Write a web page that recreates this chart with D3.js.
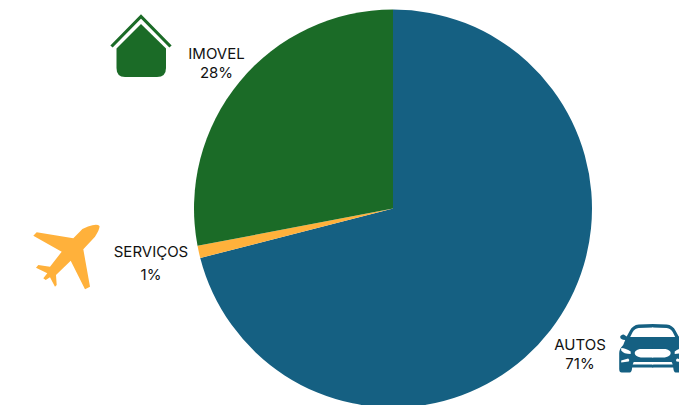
<!DOCTYPE html>
<html>
<head>
<meta charset="utf-8">
<script src="https://cdnjs.cloudflare.com/ajax/libs/d3/7.8.5/d3.min.js"></script>
<style>
  html, body { margin: 0; padding: 0; background: #fff; overflow: hidden; }
  text { font-family: Inter, "Noto Sans", sans-serif; font-size: 15px; fill: #111; text-anchor: middle; }
</style>
</head>
<body>
<svg id="chart" width="679" height="405"></svg>
<script>
// Portfolio share per segment, in clockwise order from twelve o'clock
const categories = ["AUTOS", "SERVIÇOS", "IMOVEL"];
const shares = [71, 1, 28];
const colors = ["#156082", "#ffb13b", "#1b6b27"];
const labelLines = {
  AUTOS: { x: 580, y: [350, 369] },
  "SERVIÇOS": { x: 151, y: [257, 280] },
  IMOVEL: { x: 216.5, y: [59, 78] }
};

const svg = d3.select("#chart");
const color = d3.scaleOrdinal().domain(categories).range(colors);

const pie = d3.pie().sort(null).value(d => d.value);
const arc = d3.arc().innerRadius(0).outerRadius(199);
const slices = pie(categories.map((name, i) => ({ name, value: shares[i] })));

svg.append("g")
  .attr("transform", "translate(393,208.5)")
  .selectAll("path")
  .data(slices)
  .join("path")
  .attr("d", arc)
  .attr("fill", d => color(d.data.name));

// Segment labels: name on the first line, percentage on the second
const labels = svg.append("g").selectAll("g").data(slices).join("g");
labels.append("text")
  .attr("x", d => labelLines[d.data.name].x)
  .attr("y", d => labelLines[d.data.name].y[0])
  .text(d => d.data.name);
labels.append("text")
  .attr("x", d => labelLines[d.data.name].x)
  .attr("y", d => labelLines[d.data.name].y[1])
  .text(d => d.data.value + "%");

// House icon
const house = svg.append("g").attr("fill", color("IMOVEL"));
house.append("path")
  .attr("d", "M111.5 46.5 L141 16.5 L170.5 46.5")
  .attr("fill", "none")
  .attr("stroke", color("IMOVEL"))
  .attr("stroke-width", 3.2);
house.append("path")
  .attr("d", "M141 24 L166 48.5 L166 68 Q166 77 157 77 L125 77 Q116.5 77 116.5 68 L116.5 48.5 Z");

// Plane icon
svg.append("path")
  .attr("fill", color("SERVIÇOS"))
  .attr("d", "M99.5 226 Q97 223.5 88 226.5 Q83 228 80 231.5 L73.3 238.3 L36.7 232.3 L33.3 235.7 L61.7 251.7 L50 266.7 L38.3 265 L36 267.7 L47.3 273.3 L43.3 278.3 L45.7 280 L50 277.3 L55 286.7 L56.7 285 L56 275 L70.7 260.7 L85 289.3 L90 286.7 L83.3 249.3 L95 236.7 Q100 229 99.5 226 Z");

// Car icon, drawn as a left half and mirrored about its centre line
const car = svg.append("g").attr("transform", "translate(652.7,0)");
const halfBody = "M0.5 324 L-14 324.5 Q-20 325 -23 331 L-26 336.5 L-29 334.5 Q-32.5 335 -32.5 337 Q-32.5 339.5 -27.5 340 L-29.5 345 Q-33.5 349 -33.5 353 L-33.5 369 Q-33.5 372.5 -31 372.5 L-23 372.5 Q-21 372.5 -20.5 367.5 L0.5 367.5 Z";
const halfWindow = "M0.5 327.5 L-14 328 Q-18 328.5 -20 332 L-22.5 337 L0.5 337 Z";
const halfGrille = "M0.5 349 L-13 349 Q-18 350.5 -18 353 Q-18 356 -12 357.5 L0.5 357.5 Z";
const halfLamp = "M-31.5 348 Q-27 348 -22 351.5 L-22 354 Q-29 354 -31.5 350.5 Z";
const halfFog = "M-31.5 360.5 L-24.5 358.5 Q-22.5 360 -24 361.5 L-31.5 362.5 Z";
const halfBar = "M0.5 362 L-19 362 L-20 364.5 L0.5 364.5 Z";
[1, -1].forEach(side => {
  const half = car.append("g").attr("transform", `scale(${side},1)`);
  half.append("path").attr("d", halfBody).attr("fill", color("AUTOS"));
});
[1, -1].forEach(side => {
  const half = car.append("g").attr("transform", `scale(${side},1)`);
  [halfWindow, halfGrille, halfLamp, halfFog, halfBar].forEach(d =>
    half.append("path").attr("d", d).attr("fill", "#fff"));
});
</script>
</body>
</html>
